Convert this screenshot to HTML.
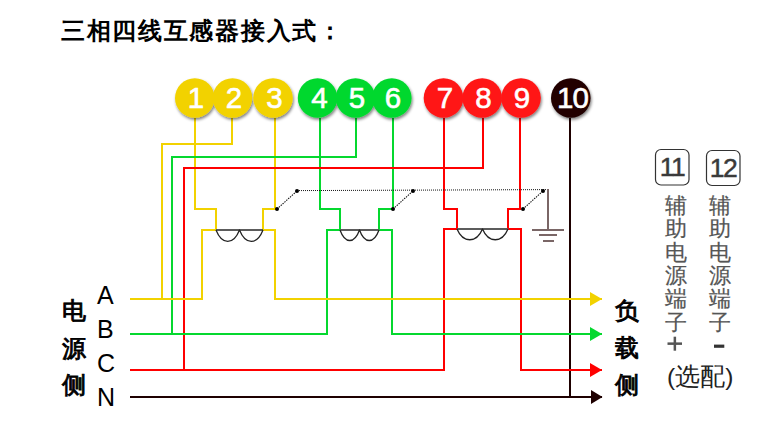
<!DOCTYPE html>
<html><head><meta charset="utf-8">
<style>
html,body{margin:0;padding:0;background:#fff;}
body{width:774px;height:434px;overflow:hidden;position:relative;font-family:"Liberation Sans",sans-serif;}
svg{position:absolute;left:0;top:0;}
.t{position:absolute;white-space:nowrap;line-height:1;}
.b{font-size:24px;-webkit-text-stroke:0.9px #000;}
</style></head><body>
<svg width="774" height="434" viewBox="0 0 774 434">
<defs>
<filter id="sh" x="-30%" y="-30%" width="160%" height="160%">
<feGaussianBlur in="SourceAlpha" stdDeviation="1.6"/>
<feOffset dx="1" dy="1.8" result="b"/>
<feComponentTransfer><feFuncA type="linear" slope="0.5"/></feComponentTransfer>
<feMerge><feMergeNode/><feMergeNode in="SourceGraphic"/></feMerge>
</filter>
</defs>
<g fill="none" stroke-width="2" stroke-linejoin="miter" stroke-linecap="butt">
<!-- yellow -->
<g stroke="#f2d200">
<path d="M195 118V209H216V230"/>
<path d="M232 118V144H162V299"/>
<path d="M275 118V209H263V230"/>
<path d="M130 299H202V230H216"/>
<path d="M263 230H275V299H602"/>
</g>
<!-- green -->
<g stroke="#05d82f">
<path d="M320 118V209H340V230"/>
<path d="M356 118V157H172V334"/>
<path d="M393 118V209H379V230"/>
<path d="M130 334H327V230H340"/>
<path d="M379 230H392V334H602"/>
</g>
<!-- red -->
<g stroke="#ff0000">
<path d="M444 118V209H457V229"/>
<path d="M483 118V168H184V370"/>
<path d="M520 118V209H508V229"/>
<path d="M130 370H444V229H457"/>
<path d="M508 229H521V370H602"/>
</g>
<!-- black -->
<g stroke="#1e0000">
<path d="M570 118V397"/>
<path d="M130 397H602"/>
</g>
</g>
<!-- horizontals on top -->
<g fill="none" stroke-width="2">
<path d="M172 157H356" stroke="#05d82f"/>
<path d="M184 168H483" stroke="#ff0000"/>
<path d="M130 299H202M275 299H602" stroke="#f2d200"/>
<path d="M130 334H327M392 334H602" stroke="#05d82f"/>
<path d="M130 370H444M521 370H602" stroke="#ff0000"/>
</g>
<!-- arrows -->
<path d="M590 292L602 299L590 306Z" fill="#f2d200"/>
<path d="M590 327L602 334L590 341Z" fill="#05d82f"/>
<path d="M590 363L602 370L590 377Z" fill="#ff0000"/>
<path d="M591 390L602.5 397L591 404Z" fill="#1e0000"/>
<!-- CTs -->
<g fill="none">
<path d="M216 230H263" stroke="#5c5c5c" stroke-width="1.8"/>
<path d="M216 230c6 15.2 17.5 15.2 23.5 0c6 15.2 17.5 15.2 23.5 0" stroke="#222" stroke-width="1.3" stroke-linejoin="round"/>
<path d="M340 230H379" stroke="#5c5c5c" stroke-width="1.8"/>
<path d="M340 230c5 14 14.5 14 19.5 0c5 14 14.5 14 19.5 0" stroke="#222" stroke-width="1.3" stroke-linejoin="round"/>
<path d="M457 229H508" stroke="#5c5c5c" stroke-width="1.8"/>
<path d="M457 229c6 14.3 19.5 14.3 25.5 0c6 14.3 19.5 14.3 25.5 0" stroke="#222" stroke-width="1.3" stroke-linejoin="round"/>
</g>
<!-- dotted ground line -->
<g fill="none" stroke="#333" stroke-width="1">
<path d="M297 190.6L549 189.6" stroke-dasharray="1 1" stroke-width="1" stroke="#111"/>
<path d="M277 209L297 191" stroke-dasharray="1.4 1.1" stroke="#111" stroke-width="1.1"/>
<path d="M393 209L413 191" stroke-dasharray="1.4 1.1" stroke="#111" stroke-width="1.1"/>
<path d="M523 209L543 191" stroke-dasharray="1.4 1.1" stroke="#111" stroke-width="1.1"/>
</g>
<g fill="#000">
<circle cx="277" cy="209" r="2"/><circle cx="297" cy="191" r="2"/>
<circle cx="393" cy="209" r="2"/><circle cx="413" cy="191" r="2"/>
<circle cx="523" cy="209" r="2"/><circle cx="543" cy="191" r="2"/>
</g>
<!-- ground -->
<g stroke="#7a6666" stroke-width="2" fill="none">
<path d="M548 189V230"/>
<path d="M532 230H564"/>
<path d="M539 235H557"/>
<path d="M543 241H554"/>
</g>
<!-- terminals -->
<g filter="url(#sh)">
<circle cx="194.8" cy="98" r="19.8" fill="#f2d200"/>
<circle cx="232.5" cy="98" r="19.8" fill="#f2d200"/>
<circle cx="273" cy="98" r="19.8" fill="#f2d200"/>
<circle cx="317.6" cy="98" r="19.8" fill="#05d82f"/>
<circle cx="355.5" cy="98" r="19.8" fill="#05d82f"/>
<circle cx="391.8" cy="98" r="19.8" fill="#05d82f"/>
<circle cx="443.5" cy="98" r="19.8" fill="#ff1414"/>
<circle cx="482.2" cy="98" r="19.8" fill="#ff1414"/>
<circle cx="521" cy="98" r="19.8" fill="#ff1414"/>
<circle cx="570.8" cy="98" r="19.8" fill="#200000"/>
</g>
<g fill="#fff" stroke="#fff" stroke-width="0.6" font-family="Liberation Sans" font-size="29.5" text-anchor="middle" transform="translate(1,-0.2)">
<text x="195" y="108.5">1</text>
<text x="233" y="108.5">2</text>
<text x="273.5" y="108.5">3</text>
<text x="318.5" y="108.5">4</text>
<text x="356" y="108.5">5</text>
<text x="392" y="108.5">6</text>
<text x="444" y="108.5">7</text>
<text x="482.5" y="108.5">8</text>
<text x="521" y="108.5">9</text>
<text x="571.5" y="108.5" letter-spacing="-1">10</text>
</g>
<!-- plus minus -->
<g fill="#555"><rect x="667.5" y="342.4" width="14.5" height="2.5"/><rect x="673.6" y="336.7" width="2.5" height="14"/></g>
<rect x="714" y="344.6" width="10.3" height="3.2" fill="#333"/>
<!-- boxes -->
<rect x="655.5" y="149.5" width="33.5" height="35.5" rx="5.5" fill="none" stroke="#333" stroke-width="1.2"/>
<rect x="706.5" y="150.5" width="33.5" height="35" rx="5.5" fill="none" stroke="#333" stroke-width="1.2"/>
<g fill="#3a3a3a" stroke="#3a3a3a" stroke-width="0.45" font-family="Liberation Sans" font-size="26.5" letter-spacing="-1.5" text-anchor="middle">
<text x="672" y="176">11</text>
<text x="723" y="177">12</text>
</g>
</svg>
<div class="t" style="left:61px;top:19px;font-size:24px;font-weight:bold;letter-spacing:1.7px;">三相四线互感器接入式：</div>
<div class="t b" style="left:62px;top:299px;">电</div>
<div class="t b" style="left:62px;top:337px;">源</div>
<div class="t b" style="left:62px;top:373px;">侧</div>
<div class="t b" style="left:615px;top:298.5px;">负</div>
<div class="t b" style="left:615px;top:335.5px;">载</div>
<div class="t b" style="left:615px;top:373.3px;">侧</div>
<div class="t" style="left:97px;top:278px;font-size:25px;line-height:34px;">A<br>B<br>C<br>N</div>
<div class="t" style="left:665px;top:193.8px;font-size:22px;line-height:23.4px;color:#555;-webkit-text-stroke:0.2px #555;">辅<br>助<br>电<br>源<br>端<br>子</div>
<div class="t" style="left:709px;top:193.8px;font-size:22px;line-height:23.4px;color:#555;-webkit-text-stroke:0.2px #555;">辅<br>助<br>电<br>源<br>端<br>子</div>
<div class="t" style="left:667px;top:365px;font-size:24.5px;color:#222;">(选配)</div>
</body></html>
